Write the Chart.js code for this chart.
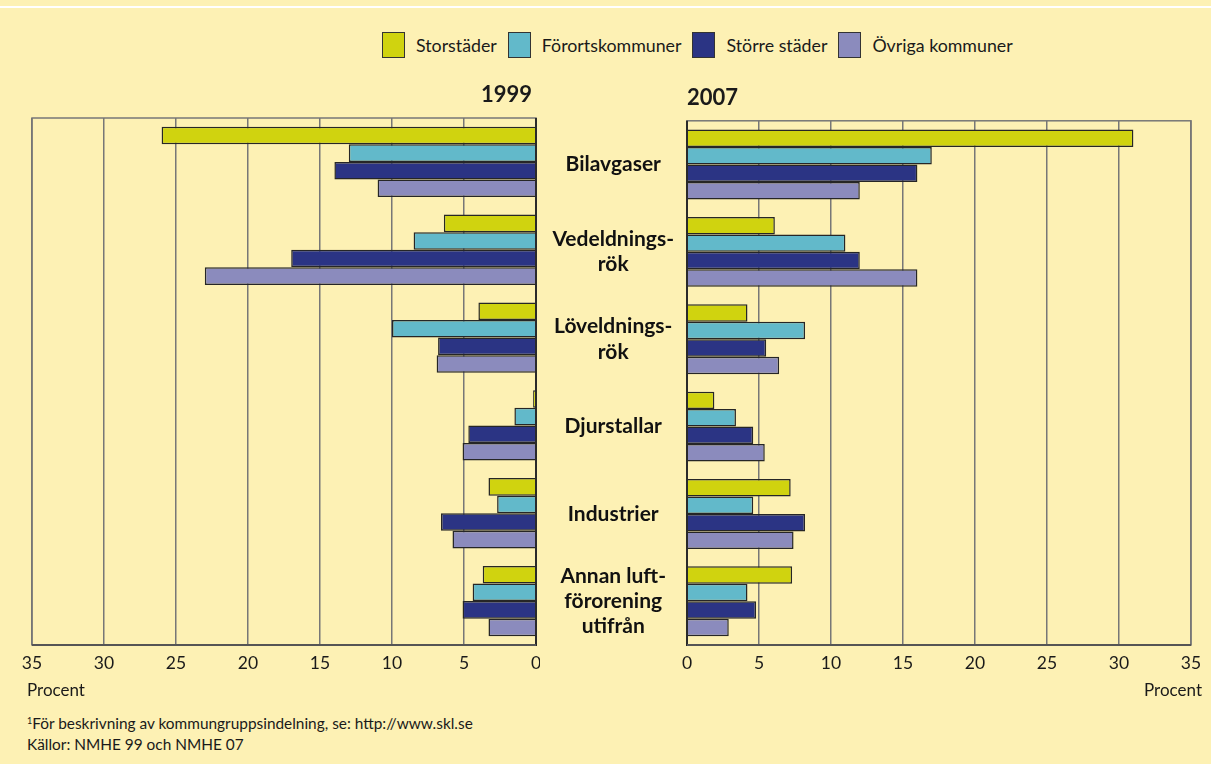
<!DOCTYPE html>
<html lang="sv">
<head>
<meta charset="utf-8">
<script src="https://cdn.jsdelivr.net/npm/chart.js@4/dist/chart.umd.min.js"></script>
<style>
  html, body { margin: 0; padding: 0; }
  body {
    width: 1211px; height: 764px; position: relative; overflow: hidden;
    background: #fdf1b4; font-family: Lato, "Open Sans", sans-serif; color: #1a1a1a;
  }
  .topline { position: absolute; left: 0; top: 6px; width: 1211px; height: 2px; background: #fff; }
  #legend {
    position: absolute; left: 382px; top: 32px; display: flex; align-items: center;
    font-size: 17.8px;
  }
  #legend .item { display: flex; align-items: center; margin-right: 11px; }
  #legend .box {
    width: 21px; height: 24px; border: 1.5px solid #333; margin-right: 11px;
  }
  .wrap { position: absolute; top: 70px; height: 630px; }
  #wrapLeft { left: 0; width: 540px; }
  #wrapRight { left: 537px; width: 674px; }
  .note { position: absolute; left: 27px; font-size: 15.4px; }
  .note sup { font-size: 9px; vertical-align: 5px; }
</style>
</head>
<body>
<div class="topline"></div>
<div id="legend"></div>
<div class="wrap" id="wrapLeft"><canvas id="chart1999"></canvas></div>
<div class="wrap" id="wrapRight"><canvas id="chart2007"></canvas></div>
<div class="note" style="top:714px"><sup>1</sup>För beskrivning av kommungruppsindelning, se: http://www.skl.se</div>
<div class="note" style="top:735px">Källor: NMHE 99 och NMHE 07</div>
<script>
const categories = [
  'Bilavgaser',
  ['Vedeldnings-', 'rök'],
  ['Löveldnings-', 'rök'],
  'Djurstallar',
  'Industrier',
  ['Annan luft-', 'förorening', 'utifrån']
];
const seriesNames = ['Storstäder', 'Förortskommuner', 'Större städer', 'Övriga kommuner'];
const seriesColors = ['#d0d30f', '#62b9ca', '#2b3484', '#8b8bbd'];

// procent, 1999
const storstader1999 = [26.0, 6.4, 4.0, 0.2, 3.3, 3.7];
const forort1999     = [13.0, 8.5, 10.0, 1.5, 2.7, 4.4];
const storre1999     = [14.0, 17.0, 6.8, 4.7, 6.6, 5.1];
const ovriga1999     = [11.0, 23.0, 6.9, 5.1, 5.8, 3.3];

// procent, 2007
const storstader2007 = [31.0, 6.1, 4.2, 1.9, 7.2, 7.3];
const forort2007     = [17.0, 11.0, 8.2, 3.4, 4.6, 4.2];
const storre2007     = [16.0, 12.0, 5.5, 4.6, 8.2, 4.8];
const ovriga2007     = [12.0, 16.0, 6.4, 5.4, 7.4, 2.9];

const xTicks = [0, 5, 10, 15, 20, 25, 30, 35];

// legend
const legendEl = document.getElementById('legend');
seriesNames.forEach(function(name, i) {
    const item = document.createElement('div');
    item.className = 'item';
    const box = document.createElement('span');
    box.className = 'box';
    box.style.background = seriesColors[i];
    const txt = document.createElement('span');
    txt.textContent = name;
    item.appendChild(box);
    item.appendChild(txt);
    legendEl.appendChild(item);
});

function makeDatasets(values) {
    return values.map(function(v, i) {
        return {
            label: seriesNames[i],
            data: v,
            backgroundColor: seriesColors[i],
            borderColor: '#262626',
            borderWidth: 1.5,
            borderSkipped: 'start',
            barPercentage: 1,
            categoryPercentage: 0.8
        };
    });
}

// ram runt plotytan, år och "Procent"
const framePlugin = {
    id: 'frame',
    beforeDatasetsDraw(chart) {
        const a = chart.chartArea;
        const ctx = chart.ctx;
        ctx.save();
        ctx.strokeStyle = '#777';
        ctx.lineWidth = 1.5;
        ctx.strokeRect(a.left, a.top, a.right - a.left, a.bottom - a.top);
        ctx.restore();
    },
    afterDraw(chart, args, opts) {
        const a = chart.chartArea;
        const ctx = chart.ctx;
        const zeroX = chart.scales.x.getPixelForValue(0);
        ctx.save();
        ctx.strokeStyle = '#2a2a2a';
        ctx.lineWidth = 2;
        ctx.beginPath();
        ctx.moveTo(zeroX, a.top);
        ctx.lineTo(zeroX, a.bottom + 1);
        ctx.stroke();
        ctx.strokeStyle = '#555';
        ctx.beginPath();
        ctx.moveTo(a.left, a.bottom);
        ctx.lineTo(a.right, a.bottom);
        ctx.stroke();

        ctx.fillStyle = '#1a1a1a';
        ctx.font = 'bold 22px Lato';
        ctx.textBaseline = 'alphabetic';
        ctx.textAlign = opts.side === 'left' ? 'right' : 'left';
        ctx.fillText(opts.year, opts.side === 'left' ? a.right - 4 : a.left, a.top - 16);

        ctx.font = '17px Lato';
        ctx.textBaseline = 'middle';
        ctx.textAlign = opts.side === 'left' ? 'left' : 'right';
        ctx.fillText('Procent', opts.side === 'left' ? a.left - 5 : a.right + 11, a.bottom + 46);
        ctx.restore();
    }
};

function xScale(reverse) {
    return {
        type: 'linear',
        min: 0,
        max: 35,
        reverse: reverse,
        afterBuildTicks: function(scale) {
            scale.ticks = xTicks.map(v => ({ value: v }));
        },
        afterFit: function(scale) { scale.height = 55; },
        grid: { color: '#777', lineWidth: 1.5, drawTicks: false },
        border: { display: false },
        ticks: { color: '#1a1a1a', padding: 8, font: { family: 'Lato', size: 17.5 } }
    };
}

new Chart(document.getElementById('chart1999'), {
    type: 'bar',
    data: {
        labels: categories,
        datasets: makeDatasets([storstader1999, forort1999, storre1999, ovriga1999])
    },
    options: {
        indexAxis: 'y',
        responsive: true,
        maintainAspectRatio: false,
        animation: false,
        layout: { padding: { top: 48, left: 32, right: 4, bottom: 0 } },
        scales: {
            x: xScale(true),
            y: { display: false }
        },
        plugins: {
            legend: { display: false },
            tooltip: { enabled: false },
            frame: { year: '1999', side: 'left' }
        }
    },
    plugins: [framePlugin]
});

new Chart(document.getElementById('chart2007'), {
    type: 'bar',
    data: {
        labels: categories,
        datasets: makeDatasets([storstader2007, forort2007, storre2007, ovriga2007])
    },
    options: {
        indexAxis: 'y',
        responsive: true,
        maintainAspectRatio: false,
        animation: false,
        layout: { padding: { top: 48, left: 0, right: 20, bottom: 0 } },
        scales: {
            x: xScale(false),
            y: {
                afterFit: function(scale) { scale.width = 150; },
                grid: { display: false, drawTicks: false },
                border: { display: false },
                ticks: {
                    crossAlign: 'center',
                    padding: 13,
                    color: '#111',
                    font: { family: 'Lato', size: 21, weight: 'bold', lineHeight: 1.2 }
                }
            }
        },
        plugins: {
            legend: { display: false },
            tooltip: { enabled: false },
            frame: { year: '2007', side: 'right' }
        }
    },
    plugins: [framePlugin]
});
</script>
</body>
</html>
